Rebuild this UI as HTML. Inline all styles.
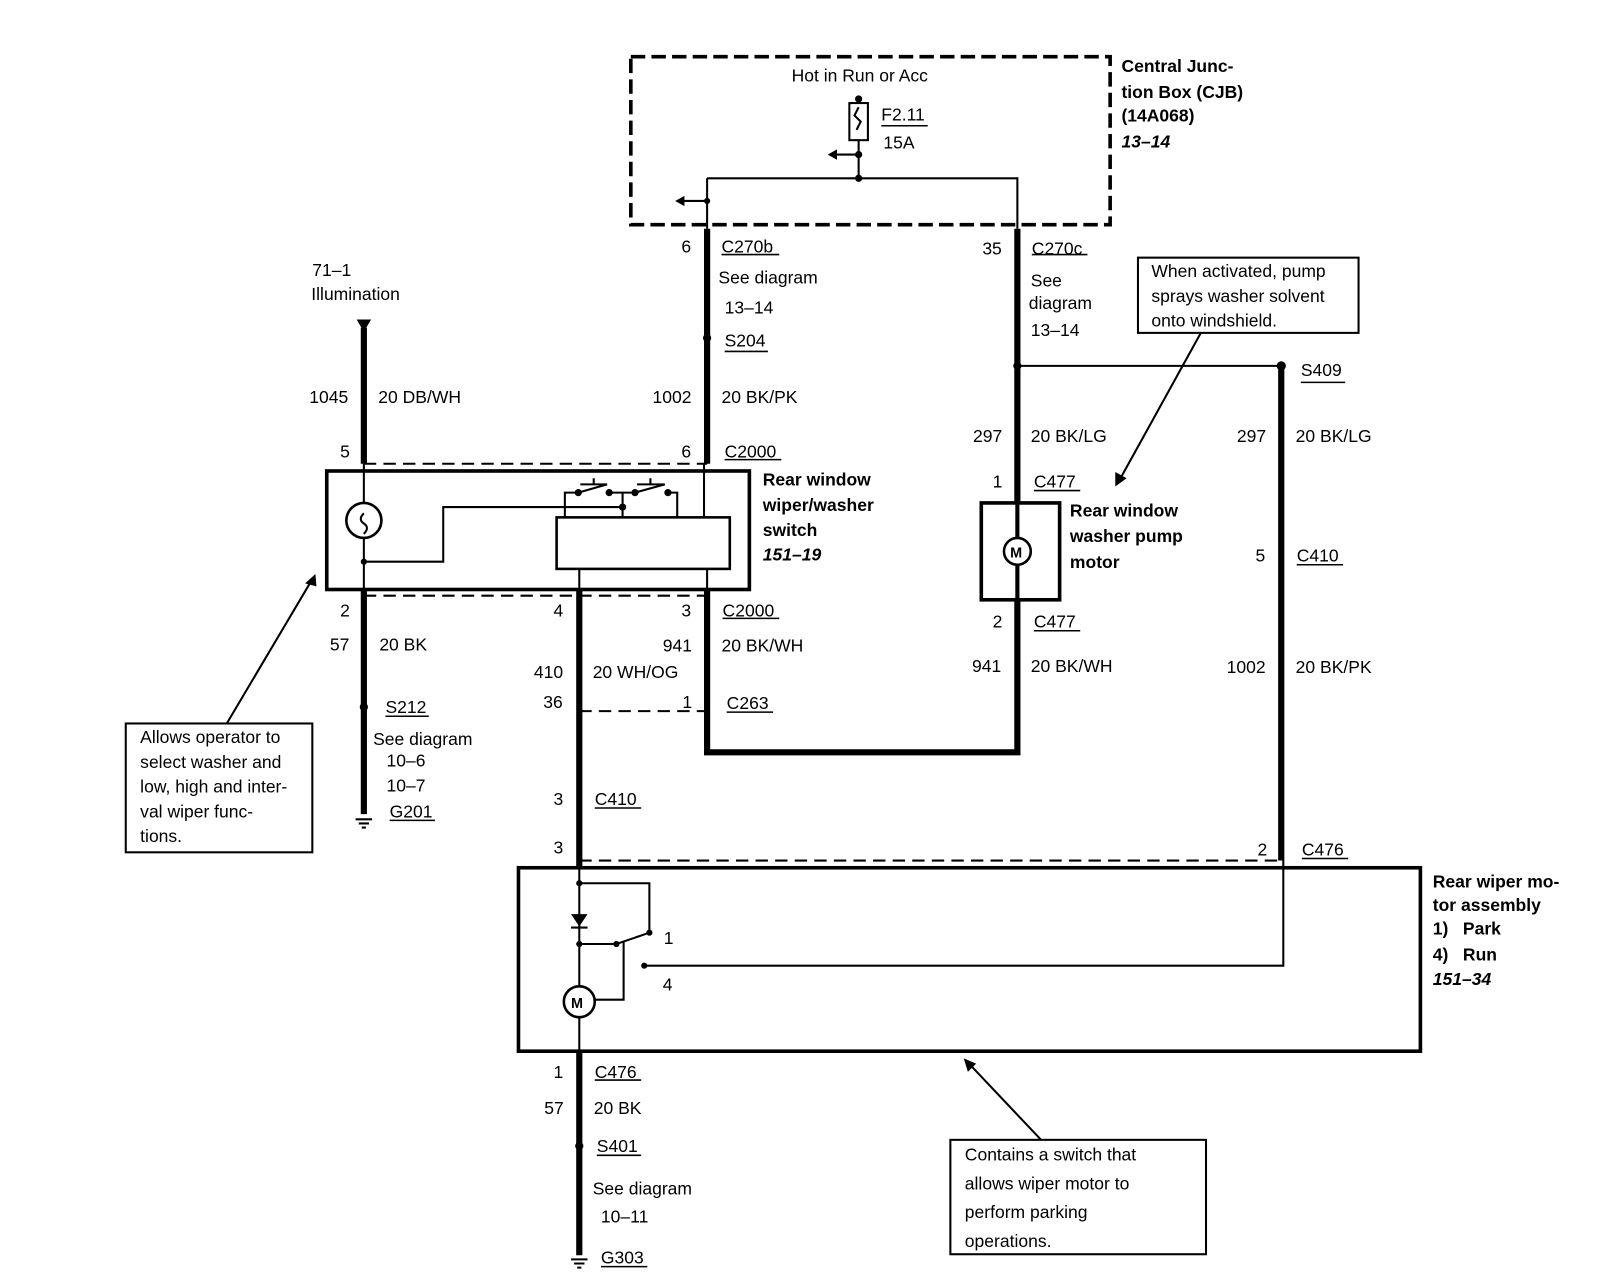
<!DOCTYPE html>
<html><head><meta charset="utf-8"><style>
html,body{margin:0;padding:0;background:#fff;}
svg{display:block}
text{font-family:"Liberation Sans",sans-serif;font-size:17px;fill:#000}
.b{font-weight:bold}
.i{font-weight:bold;font-style:italic}
</style></head><body>
<svg width="1608" height="1280" viewBox="0 0 1560 1242" preserveAspectRatio="none" xmlns="http://www.w3.org/2000/svg">
<g fill="none" stroke="#000">
<!-- CJB -->
<rect x="612" y="55" width="465" height="163" stroke-width="3.5" stroke-dasharray="14,6"/>
<rect x="824" y="100" width="18" height="36" stroke-width="2"/>
<path d="M833 96 V100 M833 104 l-4 8 l6 6 l-4 8 M833 136 V173 M686 173 H987 V222 M686 173 V222" stroke-width="2"/>
<path d="M833 150 H810 M686 195 H662" stroke-width="2"/>
<!-- thick wires -->
<path d="M686 222 V450 M987 222 V488 M1243 355 V835 M353 318 V450 M353 572 V790 M562 572 V842 M686 572 V730 H987 V582 M562 1020 V1218" stroke-width="6"/>
<!-- thin S409 -->
<path d="M987 355 H1243" stroke-width="2"/>
<!-- dashed connector lines -->
<path d="M353 450 H686 M353 578 H686 M562 690 H686 M562 835 H1243" stroke-width="2" stroke-dasharray="12,7"/>
<!-- switch box -->
<rect x="317" y="457" width="410" height="115" stroke-width="3.5"/>
<rect x="540" y="502" width="168" height="50" stroke-width="2.5"/>
<circle cx="353" cy="505" r="17" stroke-width="2.5"/>
<path d="M353 450 V488 M353 522 V572 M353 545 H430 V492 H604 V478 M548 502 V478 H561 M591 478 H616 M648 478 H657 V502 M604 492 V502 M563 470 H589 M576 470 V464 M618 470 H645 M631 470 V464 M561 478 L589 470 M616 478 L645 470 M683 450 V502 M562 552 V572 M686 552 V572" stroke-width="2"/>
<path d="M353 498 q-6 6 0 10 q6 4 0 10" stroke-width="2"/>
<!-- pump motor -->
<rect x="952" y="488" width="76" height="94" stroke-width="3.5"/>
<circle cx="987" cy="535" r="13" stroke-width="2.5"/>
<path d="M987 488 V522 M987 548 V582" stroke-width="4"/>
<!-- wiper motor box -->
<rect x="503" y="842" width="875" height="178" stroke-width="3.5"/>
<path d="M562 842 V957 M562 987 V1020 M562 857 H630 V905 M562 916 H598 L630 905 M605 913 V970 H577 M625 937 H1245 V835" stroke-width="2"/>
<circle cx="562" cy="972" r="15" stroke-width="2.5"/>
<!-- callouts -->
<rect x="1104" y="250" width="214" height="73" stroke-width="2"/>
<rect x="122" y="702" width="181" height="125" stroke-width="2"/>
<rect x="922" y="1106" width="248" height="111" stroke-width="2"/>
<path d="M1165 323 L1086 466 M220 702 L303 562 M1010 1106 L940 1032" stroke-width="2"/>
<!-- grounds -->
<path d="M345 795 H361 M348 799 H358 M351 803 H355 M554 1222 H570 M557 1226 H567 M560 1230 H564" stroke-width="2"/>
<!-- underlines -->
<path d="M855 122 H900 M700 247 H756 M1001 247 H1055 M703 341 H745 M1262 371 H1305 M703 446 H758 M1003 476 H1048 M1003 612 H1048 M701 600 H756 M1258 548 H1303 M374 695 H416 M378 796 H422 M705 691 H750 M577 784 H622 M1263 833 H1308 M577 1048 H622 M579 1121 H622 M583 1229 H628" stroke-width="1.5"/>
</g>
<g fill="#000">
<circle cx="833" cy="96" r="3.5"/><circle cx="833" cy="150" r="3.5"/><circle cx="833" cy="173" r="3.5"/>
<circle cx="686" cy="195" r="3"/><circle cx="686" cy="328" r="4"/><circle cx="987" cy="355" r="4"/><circle cx="1243" cy="355" r="4.5"/>
<circle cx="353" cy="686" r="4"/><circle cx="562" cy="1112" r="4"/>
<circle cx="353" cy="545" r="3"/><circle cx="561" cy="478" r="3.5"/><circle cx="591" cy="478" r="3.5"/><circle cx="616" cy="478" r="3.5"/><circle cx="648" cy="478" r="3.5"/><circle cx="604" cy="492" r="3.5"/>
<circle cx="562" cy="857" r="3"/><circle cx="562" cy="916" r="3"/><circle cx="598" cy="916" r="3"/><circle cx="630" cy="905" r="3"/><circle cx="625" cy="937" r="3"/>
<polygon points="803,150 812,145 812,155"/><polygon points="655,195 664,190 664,200"/>
<polygon points="346,310 360,310 353,322"/>
<polygon points="554,887 570,887 562,899"/><path d="M554 900 H570" stroke="#000" stroke-width="2"/>
<polygon points="1082,472 1082,458 1093,464"/><polygon points="306,557 296,566 307,569"/><polygon points="935,1027 939,1040 947,1032"/>
</g>
<text x="768" y="79">Hot in Run or Acc</text>
<text x="855" y="117">F2.11</text><text x="857" y="144">15A</text>
<text class="b" x="1088" y="70">Central Junc-</text><text class="b" x="1088" y="95">tion Box (CJB)</text><text class="b" x="1088" y="118">(14A068)</text><text class="i" x="1088" y="143">13–14</text>
<text x="661" y="245">6</text><text x="700" y="245">C270b</text><text x="697" y="275">See diagram</text><text x="703" y="304">13–14</text><text x="703" y="336">S204</text>
<text x="633" y="391">1002</text><text x="700" y="391">20 BK/PK</text><text x="661" y="444">6</text><text x="703" y="444">C2000</text>
<text x="953" y="247">35</text><text x="1001" y="247">C270c</text><text x="1000" y="278">See</text><text x="998" y="300">diagram</text><text x="1000" y="326">13–14</text>
<text x="1117" y="269">When activated, pump</text><text x="1117" y="293">sprays washer solvent</text><text x="1117" y="317">onto windshield.</text>
<text x="1262" y="365">S409</text>
<text x="944" y="429">297</text><text x="1000" y="429">20 BK/LG</text><text x="1200" y="429">297</text><text x="1257" y="429">20 BK/LG</text>
<text x="963" y="473">1</text><text x="1003" y="473">C477</text>
<text class="b" x="1038" y="501">Rear window</text><text class="b" x="1038" y="526">washer pump</text><text class="b" x="1038" y="551">motor</text>
<text x="980" y="541" style="font-size:14px;font-weight:bold">M</text>
<text x="963" y="609">2</text><text x="1003" y="609">C477</text><text x="943" y="652">941</text><text x="1000" y="652">20 BK/WH</text>
<text x="1218" y="545">5</text><text x="1258" y="545">C410</text><text x="1190" y="653">1002</text><text x="1257" y="653">20 BK/PK</text>
<text x="1220" y="830">2</text><text x="1263" y="830">C476</text>
<text x="303" y="268">71–1</text><text x="302" y="291">Illumination</text>
<text x="300" y="391">1045</text><text x="367" y="391">20 DB/WH</text><text x="330" y="444">5</text>
<text class="b" x="740" y="471">Rear window</text><text class="b" x="740" y="496">wiper/washer</text><text class="b" x="740" y="520">switch</text><text class="i" x="740" y="544">151–19</text>
<text x="330" y="598">2</text><text x="320" y="631">57</text><text x="368" y="631">20 BK</text><text x="374" y="692">S212</text>
<text x="362" y="723">See diagram</text><text x="375" y="744">10–6</text><text x="375" y="768">10–7</text><text x="378" y="793">G201</text>
<text x="537" y="598">4</text><text x="661" y="598">3</text><text x="701" y="598">C2000</text>
<text x="643" y="632">941</text><text x="700" y="632">20 BK/WH</text><text x="518" y="658">410</text><text x="575" y="658">20 WH/OG</text>
<text x="527" y="687">36</text><text x="662" y="687">1</text><text x="705" y="688">C263</text>
<text x="136" y="721">Allows operator to</text><text x="136" y="745">select washer and</text><text x="136" y="769">low, high and inter-</text><text x="136" y="793">val wiper func-</text><text x="136" y="817">tions.</text>
<text x="537" y="781">3</text><text x="577" y="781">C410</text><text x="537" y="828">3</text>
<text x="644" y="916">1</text><text x="643" y="961">4</text>
<text x="554" y="978" style="font-size:14px;font-weight:bold">M</text>
<text class="b" x="1390" y="861">Rear wiper mo-</text><text class="b" x="1390" y="884">tor assembly</text><text class="b" x="1390" y="907">1)&#160;&#160;&#160;Park</text><text class="b" x="1390" y="932">4)&#160;&#160;&#160;Run</text><text class="i" x="1390" y="956">151–34</text>
<text x="537" y="1046">1</text><text x="577" y="1046">C476</text><text x="528" y="1081">57</text><text x="576" y="1081">20 BK</text><text x="579" y="1118">S401</text>
<text x="575" y="1159">See diagram</text><text x="583" y="1186">10–11</text><text x="583" y="1226">G303</text>
<text x="936" y="1126">Contains a switch that</text><text x="936" y="1154">allows wiper motor to</text><text x="936" y="1182">perform parking</text><text x="936" y="1210">operations.</text>
</svg>
</body></html>
